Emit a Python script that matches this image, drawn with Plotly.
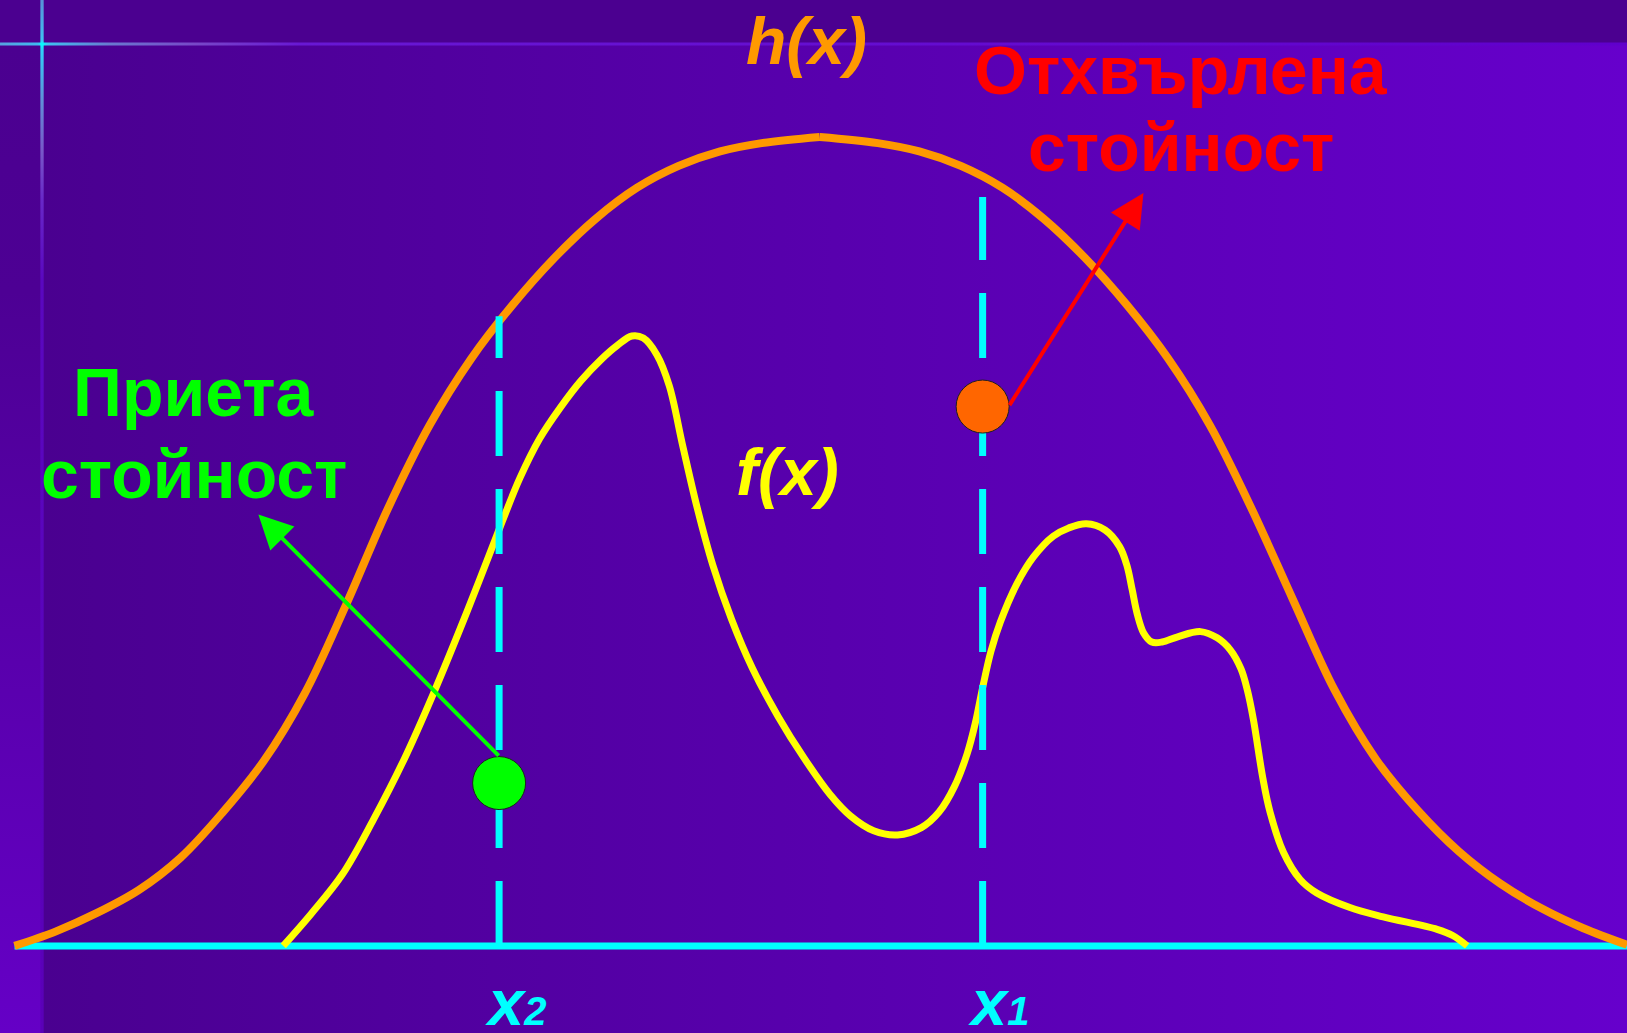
import plotly.graph_objects as go

# ---------------- data (x: position, y: height above the baseline) ----------------
h_left_x = [14, 54, 94, 134, 174, 214, 254, 294, 334, 374, 414, 454, 494, 534, 574, 614,
            654, 694, 734, 790]
h_left_y = [0, 14, 32, 54, 85, 128, 178, 244, 330, 422, 502, 566, 618, 663, 701, 731,
            752, 766, 774, 780]
h_right_x = [790, 846, 886, 926, 966, 1006, 1046, 1086, 1126, 1166, 1206, 1246, 1286,
             1326, 1366, 1406, 1446, 1486, 1526, 1568]
h_right_y = [780, 774, 766, 752, 731, 701, 663, 618, 566, 502, 422, 334, 247,
             180, 131, 91, 60, 36, 17, 1]

f_x = [273, 300, 330, 360, 390, 418, 450, 482, 501, 520, 540, 560, 580, 595, 609, 620,
       633, 645, 658, 672, 687, 705, 725, 750, 775, 800, 820, 842, 865, 888, 905, 920,
       932, 940, 947, 955, 964, 980, 996, 1015, 1030, 1047, 1065, 1079, 1086, 1091, 1096,
       1102, 1110, 1120, 1135, 1157, 1173, 1186, 1196, 1202, 1208, 1217, 1224, 1237, 1253,
       1269, 1301, 1333, 1385, 1400, 1414]
f_y = [0, 31, 69, 122, 181, 244, 322, 404, 451, 489, 519, 545, 566, 579, 588, 586,
       570, 540, 482, 422, 367, 315, 268, 221, 181, 146, 125, 111, 107, 114, 129, 154,
       185, 215, 249, 284, 312, 349, 375, 395, 403, 407, 401, 385, 367, 344, 320,
       302, 293, 293, 298, 303, 297, 285, 267, 247, 218, 162, 129, 90, 64,
       51, 37, 28, 16, 10, 0]

baseline_x = [14, 1568]
baseline_y = [0, 0]

x2_pos, x2_top = 481, 607
x1_pos, x1_top = 947, 722

accepted_pt = (481, 157)
rejected_pt = (947, 520)

# ---------------- figure ----------------
X_MIN, X_MAX, Y_MIN, Y_MAX = 0, 1568, -84, 912
TOP_BAND = 869.6
LEFT_STRIP = 40.5

fig = go.Figure()


def stops(pairs):
    pairs = sorted(pairs, key=lambda p: p[0])
    return [[round(min(max(f, 0), 1), 5), c] for f, c in pairs]


# main area: horizontal gradient
fig.add_trace(go.Scatter(
    x=[LEFT_STRIP, X_MAX, X_MAX, LEFT_STRIP, LEFT_STRIP],
    y=[TOP_BAND, TOP_BAND, Y_MIN, Y_MIN, TOP_BAND],
    mode="lines", line=dict(width=0), fill="toself",
    fillgradient=dict(type="horizontal", colorscale=[[0, "#4A0090"], [1, "#6600CC"]]),
    hoverinfo="skip"))
# left strip: vertical gradient
fig.add_trace(go.Scatter(
    x=[0, LEFT_STRIP, LEFT_STRIP, 0, 0],
    y=[TOP_BAND, TOP_BAND, Y_MIN, Y_MIN, TOP_BAND],
    mode="lines", line=dict(width=0), fill="toself",
    fillgradient=dict(type="vertical", colorscale=[[0, "#6500C6"], [0.75, "#4D0094"], [1, "#4B0090"]]),
    hoverinfo="skip"))

# decorative horizontal line
hl = [(0, "#58A0E0"), (38, "#40B8F0"), (42, "#00FFFF"), (48, "#40C0F0"), (110, "#6A78D0"),
      (195, "#7848C8"), (300, "#6818D4"), (1627, "#6000CC")]
t = 1.5
fig.add_trace(go.Scatter(
    x=[X_MIN, X_MAX, X_MAX, X_MIN, X_MIN],
    y=[TOP_BAND + t, TOP_BAND + t, TOP_BAND - t, TOP_BAND - t, TOP_BAND + t],
    mode="lines", line=dict(width=0), fill="toself",
    fillgradient=dict(type="horizontal", colorscale=stops([(p / 1627.0, c) for p, c in hl])),
    hoverinfo="skip"))
# decorative vertical line
vl = [(0, "#5890D8"), (40, "#40C0F0"), (44, "#00FFFF"), (50, "#30D0F8"), (100, "#6090D8"),
      (150, "#7858C8"), (200, "#6828C8"), (280, "#5A08C0"), (1033, "#5A00B8")]
fig.add_trace(go.Scatter(
    x=[LEFT_STRIP - 1.6, LEFT_STRIP + 1.6, LEFT_STRIP + 1.6, LEFT_STRIP - 1.6, LEFT_STRIP - 1.6],
    y=[Y_MAX, Y_MAX, Y_MIN, Y_MIN, Y_MAX],
    mode="lines", line=dict(width=0), fill="toself",
    fillgradient=dict(type="vertical", colorscale=stops([(1 - p / 1033.0, c) for p, c in vl])),
    hoverinfo="skip"))

# baseline
fig.add_trace(go.Scatter(x=baseline_x, y=baseline_y, mode="lines",
                         line=dict(color="#00FFFF", width=7), hoverinfo="skip"))

# h(x) and f(x)
for xs, ys in ((h_left_x, h_left_y), (h_right_x, h_right_y)):
    fig.add_trace(go.Scatter(x=xs, y=ys, mode="lines",
                             line=dict(color="#FF9900", width=8, shape="spline", smoothing=1),
                             hoverinfo="skip"))
fig.add_trace(go.Scatter(x=f_x, y=f_y, mode="lines",
                         line=dict(color="#FFFF00", width=7, shape="spline", smoothing=1),
                         hoverinfo="skip"))

# dashed verticals (drawn from the baseline upward)
for xp, top in ((x2_pos, x2_top), (x1_pos, x1_top)):
    fig.add_trace(go.Scatter(x=[xp, xp], y=[0, top], mode="lines",
                             line=dict(color="#00FFFF", width=7, dash="65px,33px"),
                             hoverinfo="skip"))

# points
fig.add_trace(go.Scatter(x=[accepted_pt[0]], y=[accepted_pt[1]], mode="markers",
                         marker=dict(size=53, color="#00FF00", line=dict(color="#202020", width=1)),
                         hoverinfo="skip"))
fig.add_trace(go.Scatter(x=[rejected_pt[0]], y=[rejected_pt[1]], mode="markers",
                         marker=dict(size=53, color="#FF6600", line=dict(color="#202020", width=1)),
                         hoverinfo="skip"))

FONT = "Liberation Sans, Arial, sans-serif"
ann = []


def label(x, y, text, size, color, italic=False):
    txt = "<b>" + ("<i>" + text + "</i>" if italic else text) + "</b>"
    ann.append(dict(x=x, y=y, xref="x", yref="y", text=txt, showarrow=False,
                    xanchor="center", yanchor="middle",
                    font=dict(family=FONT, size=size, color=color)))


label(1138, 844.5, "Отхвърлена", 68, "#FF0000")
label(1138, 770, "стойност", 68, "#FF0000")
label(186.5, 534, "Приета", 68, "#00FF00")
label(187, 455, "стойност", 68, "#00FF00")
label(777, 872.5, "h(x)", 66, "#FF9900", italic=True)
label(758.5, 457, "f(x)", 66, "#FFFF00", italic=True)
label(497, -55, "x<span style='font-size:40px'>2</span>", 65, "#00FFFF", italic=True)
label(962, -55, "x<span style='font-size:40px'>1</span>", 65, "#00FFFF", italic=True)

# arrows
ann.append(dict(x=249, y=416, ax=482, ay=182, xref="x", yref="y", axref="x", ayref="y",
                text="", showarrow=True, arrowhead=2, arrowsize=1.7, arrowwidth=4,
                arrowcolor="#00FF00", standoff=0, startstandoff=0))
ann.append(dict(x=1102, y=726, ax=972, ay=520, xref="x", yref="y", axref="x", ayref="y",
                text="", showarrow=True, arrowhead=2, arrowsize=1.7, arrowwidth=4,
                arrowcolor="#FF0000", standoff=0, startstandoff=0))

fig.update_layout(
    width=1627, height=1033,
    margin=dict(l=0, r=0, t=0, b=0, pad=0),
    paper_bgcolor="#4B0090", plot_bgcolor="#4B0090",
    showlegend=False,
    xaxis=dict(range=[X_MIN, X_MAX], visible=False, fixedrange=True),
    yaxis=dict(range=[Y_MIN, Y_MAX], visible=False, fixedrange=True),
    annotations=ann,
)

fig.write_html("out.html", config={"displayModeBar": False},
               post_script="document.body.style.margin='0';document.body.style.overflow='hidden';")
